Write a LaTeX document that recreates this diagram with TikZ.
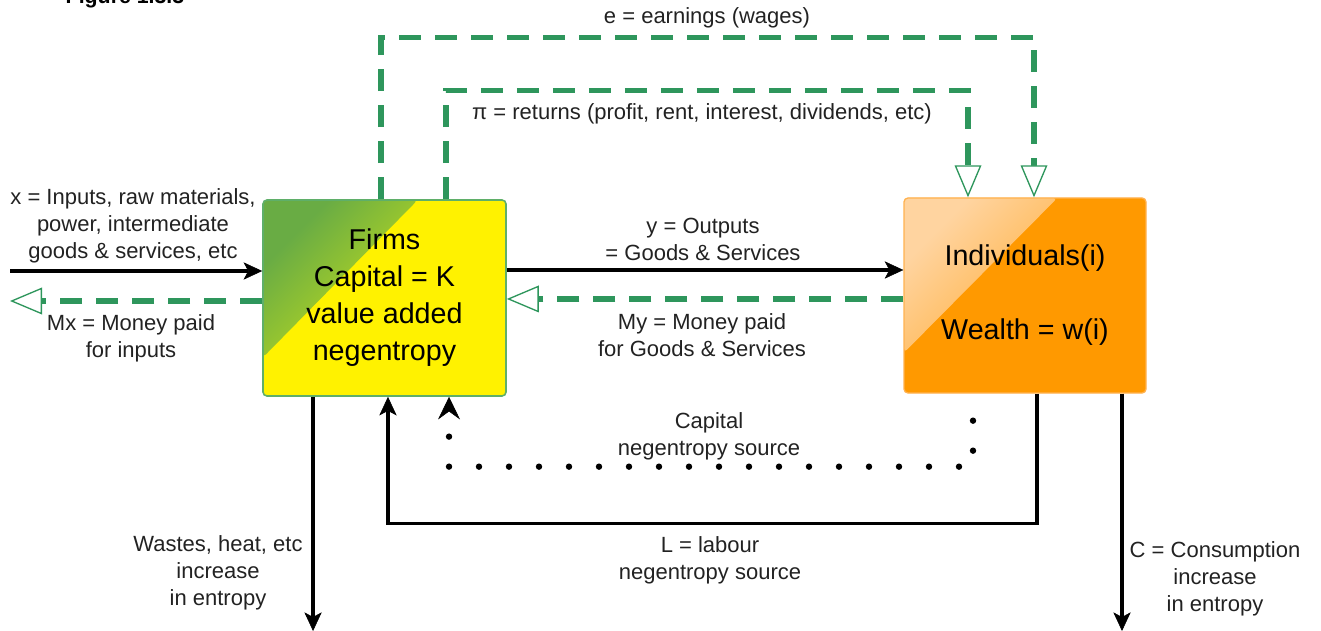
\documentclass[tikz,border=0pt]{standalone}
\usepackage{fontspec}
\setmainfont{Liberation Sans}
\usetikzlibrary{arrows.meta,calc}
\definecolor{mgreen}{RGB}{46,150,92}
\definecolor{fborder}{RGB}{95,175,105}
\definecolor{fgA}{RGB}{105,172,68}
\definecolor{fgB}{RGB}{222,238,20}
\definecolor{orng}{RGB}{255,153,0}
\definecolor{oborder}{RGB}{255,178,80}
\definecolor{ogA}{RGB}{255,212,160}
\definecolor{ogB}{RGB}{255,163,24}
\definecolor{txt}{RGB}{34,34,34}
\begin{document}
\begin{tikzpicture}[x=0.75pt,y=-0.75pt,
 lbl/.style={font=\fontsize{16.5}{20.25}\selectfont, text=txt, align=center, inner sep=0pt},
 boxtxt/.style={font=\fontsize{21.5}{27.75}\selectfont, align=center, text=black},
 flow/.style={draw=black, line width=2.6pt, -{Stealth[length=14pt,width=13pt,inset=3.5pt,line width=0.4pt]}},
 money/.style={draw=mgreen, line width=4pt, dash pattern=on 16.5pt off 10.5pt, -{Triangle[length=24pt,width=20pt,fill=white,line width=1pt]}},
 capflow/.style={draw=black, line width=4.8pt, line cap=round, dash pattern=on 0pt off 22.5pt, dash phase=2.25pt, -{Stealth[length=17pt,width=16.5pt,inset=6pt,line width=0.4pt]}},
]
\useasboundingbox (0,0) rectangle (1321,631);

% boxes
\node[draw=fborder, line width=1.2pt, fill=yellow, rounded corners=3pt,
      minimum width=182.25pt, minimum height=147pt, boxtxt,
      path picture={\shade[top color=fgA, middle color=fgB, bottom color=yellow, shading angle=45]
        (path picture bounding box.north west) -- ++(116pt,0pt) -- ++(-116pt,-118pt) -- cycle;}]
  (firms) at (384.5,298) {Firms\\Capital = K\\value added\\negentropy};
\node[draw=oborder, line width=1pt, fill=orng, rounded corners=3pt,
      minimum width=181.5pt, minimum height=146.25pt, boxtxt,
      path picture={\shade[top color=ogA, middle color=ogB, bottom color=orng, shading angle=45]
        (path picture bounding box.north west) -- ++(115pt,0pt) -- ++(-115pt,-116pt) -- cycle;}]
  (ind) at (1025,295.5) {Individuals(i)\\[27.75pt]Wealth = w(i)};

% labels
\node[font=\bfseries\fontsize{16}{19}\selectfont, anchor=base, inner sep=0pt] (fig) at (125,4) {Figure 1.3.3};
\node[lbl] (elbl) at (707,18) {e = earnings (wages)};
\node[lbl] (pilbl) at (702,114) {π = returns (profit, rent, interest, dividends, etc)};
\node[lbl] (xlbl) at (133,226) {x = Inputs, raw materials,\\power, intermediate\\goods \& services, etc};
\node[lbl] (mxlbl) at (131,338) {Mx = Money paid\\for inputs};
\node[lbl] (ylbl) at (703,239) {y = Outputs\\= Goods \& Services};
\node[lbl] (mylbl) at (702,335) {My = Money paid\\for Goods \& Services};
\node[lbl] (caplbl) at (709,436) {Capital\\negentropy source};
\node[lbl] (llbl) at (710,560) {L = labour\\negentropy source};
\node[lbl] (wlbl) at (218,573) {Wastes, heat, etc\\increase\\in entropy};
\node[lbl] (clbl) at (1215,579) {C = Consumption\\increase\\in entropy};

% free ends
\coordinate (xin) at (10,271);
\coordinate (mx) at (10,301);
\coordinate (bottom) at (0,631);
\coordinate (ya) at ([yshift=21pt]firms.east);
\coordinate (myc) at ([yshift=-2.6pt]ind.west);
\coordinate (ws) at ([xshift=-53.6pt]firms.south);
\coordinate (cs) at ([xshift=72.75pt]ind.south);

% connectors
\draw[flow] (xin) -- (xin -| firms.west);
\draw[money] (mx -| firms.west) -- (mx);
\draw[flow] (ya) -- (ya -| ind.west);
\draw[money] (myc) -- (myc -| firms.east);
\draw[money] ([xshift=-2.6pt]firms.north) -- ++(0,-162) -| ([xshift=6.75pt]ind.north);
\draw[money] ([xshift=46.1pt]firms.north) -- ++(0,-109) -| ([xshift=-42.75pt]ind.north);
\draw[flow] ([xshift=9pt]ind.south) -- ++(0,130) -| ([xshift=2.6pt]firms.south);
\draw[capflow] ([xshift=-39pt]ind.south) -- ++(0,73) -| ([xshift=48.4pt]firms.south);
\draw[flow] (ws) -- (ws |- bottom);
\draw[flow] (cs) -- (cs |- bottom);
\end{tikzpicture}
\end{document}
